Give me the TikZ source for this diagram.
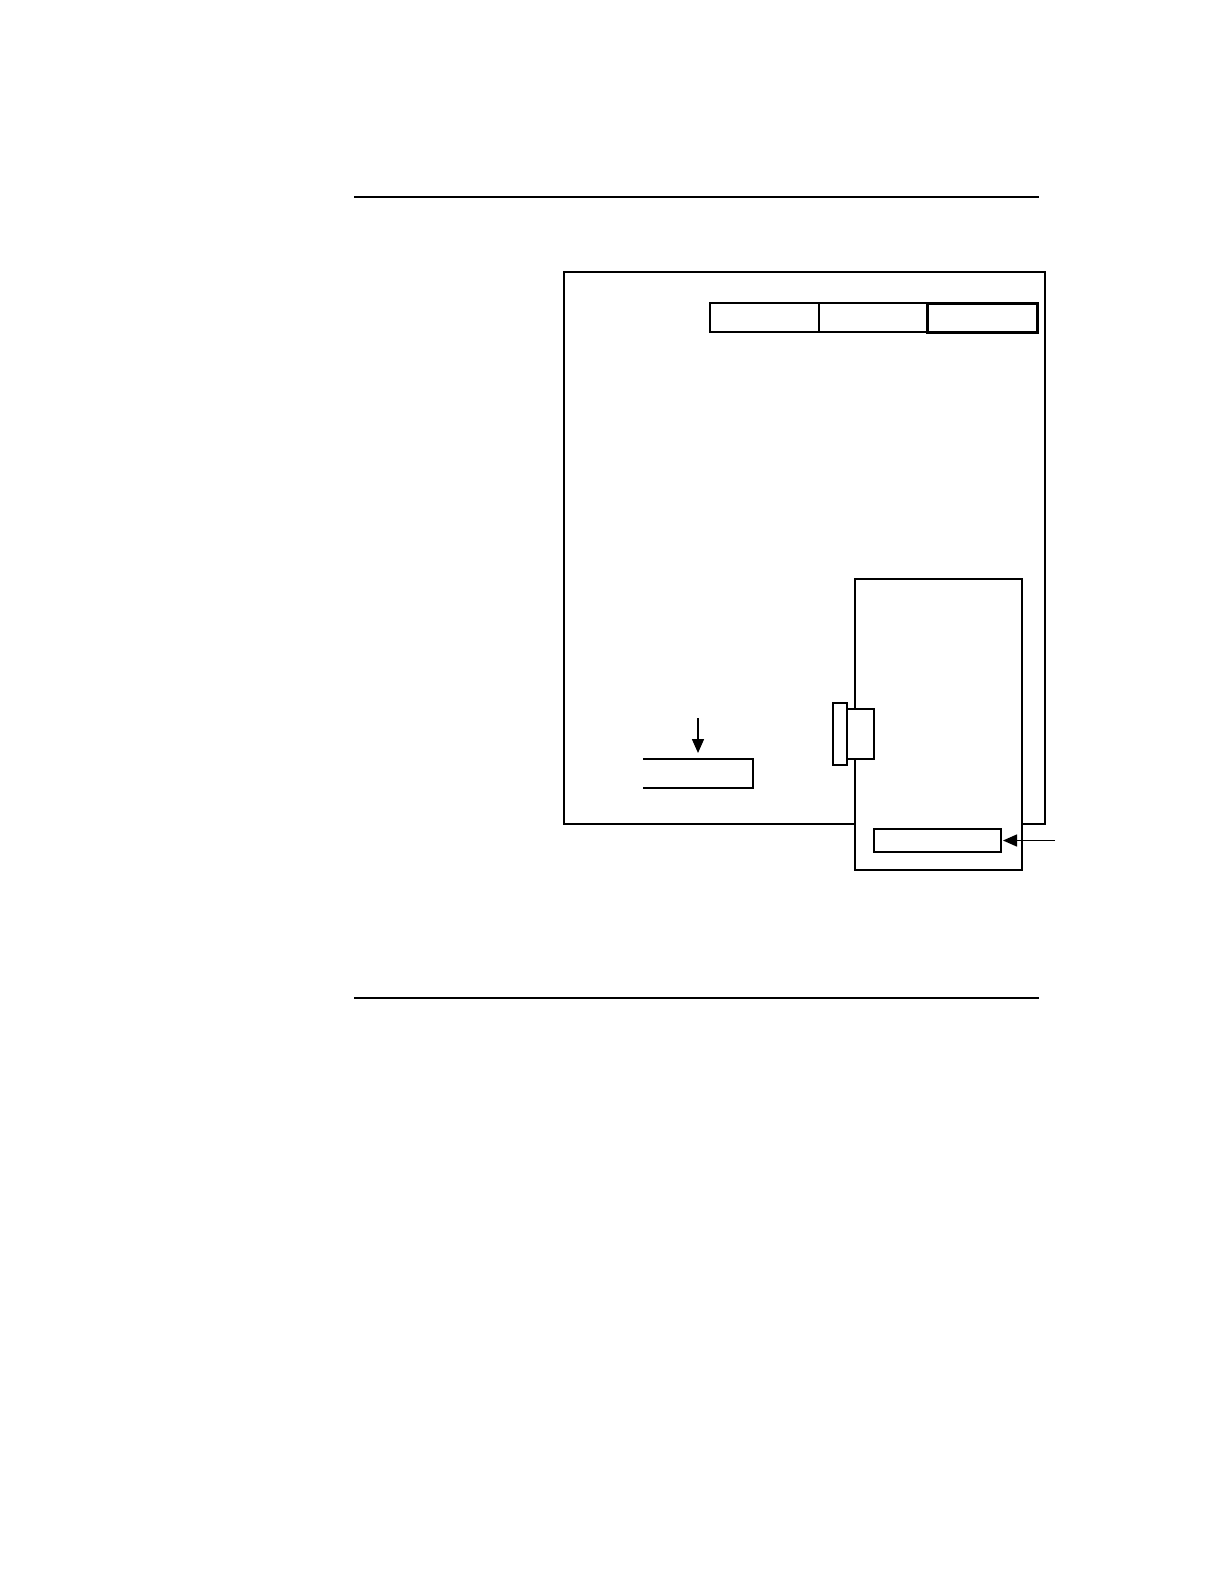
\documentclass[tikz,border=0pt]{standalone}
\usepackage{tikz}
\usetikzlibrary{arrows.meta,positioning}
\tikzset{panel/.style={draw,fill=white,line width=1bp,inner sep=0,outer sep=0},
    slotbox/.style={panel,minimum height=14.5bp},
    pointer/.style={-{Triangle[length=7bp,width=6bp]},line width=0.75bp},
    pagerule/.style={line width=1bp}
}

\begin{document}
\begin{tikzpicture}[x=0.5bp,y=-0.5bp]

\useasboundingbox (0,0) rectangle (1224,1584);

% rules above and below
\draw [pagerule] (354,197) -- (1039,197);
\draw [pagerule,line width=0.65bp] (354,998) -- (1039,998);

% main board
\node (board) at (804.5,548) [panel,minimum width=240.5bp,minimum height=276bp] {};

\node (slotA) at (764.5,317.5) [slotbox,minimum width=54.5bp] {};
\node (slotB) at (873,317.5) [slotbox,minimum width=54bp] {};
\node (slotC) at (982,317.5) [slotbox,minimum width=55bp,line width=1.5bp] {};

% open box, no left side
\node (tray) at (698,773.5) [inner sep=0,outer sep=0,minimum width=55bp,minimum height=14.5bp] {};
\draw [line width=1bp] (tray.north west) -- (tray.north east) -- (tray.south east) -- (tray.south west);

% card
\node (card) at (938.5,724.5) [panel,minimum width=83.5bp,minimum height=145.5bp] {};
\node (plug) at (860.5,734) [panel,minimum width=13.5bp,minimum height=25bp] {};
\node (plate) at (840,734) [panel,minimum width=7bp,minimum height=31bp] {};
\node (edge) at (937.5,840.5) [panel,minimum width=63.5bp,minimum height=11.5bp] {};

\coordinate (trayIn) at (698,718);
\coordinate (edgeIn) at (1055,840.5);

\draw [pointer,shorten >=3bp] (trayIn) -- (tray.north);
\draw [pointer,shorten >=1bp] (edgeIn) -- (edge.east);

\end{tikzpicture}
\end{document}
